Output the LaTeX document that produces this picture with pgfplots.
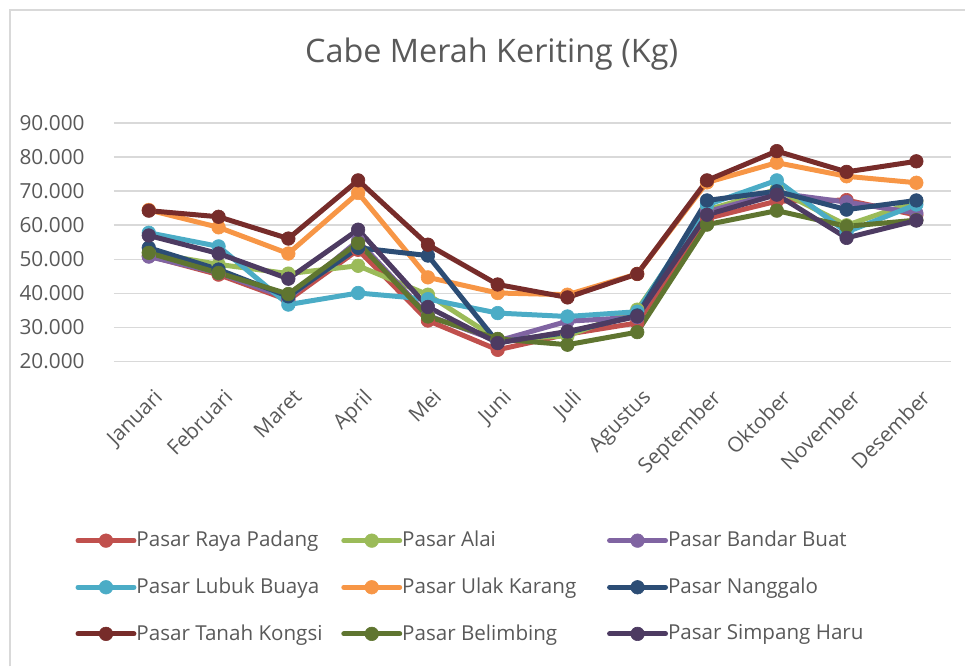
\documentclass[border=0pt]{standalone}
\usepackage{pgfplots}
\usepackage{pgfplotstable}
\pgfplotsset{compat=1.18}
\usepackage{fontspec}
\setmainfont{Open Sans}
\definecolor{txt}{HTML}{595959}
\definecolor{grd}{HTML}{D9D9D9}
\definecolor{c1}{HTML}{C0504D}
\definecolor{c2}{HTML}{9BBB59}
\definecolor{c3}{HTML}{8064A2}
\definecolor{c4}{HTML}{4BACC6}
\definecolor{c5}{HTML}{F79646}
\definecolor{c6}{HTML}{2C4D75}
\definecolor{c7}{HTML}{772C2A}
\definecolor{c8}{HTML}{5F7530}
\definecolor{c9}{HTML}{4D3B62}

\pgfplotstableread{
x  raya   alai   bandar lubuk  ulak   nang   tanah  belim  simpang
0  51000  52000  50800  57800  64500  53400  64300  51900  57000
1  45500  48500  46000  53800  59400  47000  62500  46000  51700
2  38000  45800  38500  36700  51700  39100  56100  39800  44300
3  52800  48100  55500  40100  69500  53400  73200  54800  58700
4  32000  39600  33500  38300  44700  51100  54300  33200  36000
5  23400  26500  26000  34200  40100  25600  42600  26600  25400
6  28000  27500  31800  33200  39600  28500  38800  24900  28800
7  31300  35200  33000  34600  45700  33500  45700  28600  33200
8  62000  64500  64000  66000  72600  67300  73200  60200  63100
9  67100  70500  69500  73200  78400  70000  81800  64300  69000
10 67400  60000  66800  58000  74400  64600  75700  59700  56300
11 63000  67000  63600  66100  72500  67300  78800  61500  61400
}\data

\begin{document}
\begin{tikzpicture}[x=1pt,y=1pt]
\path (0,0) rectangle (483,333.5);
\draw[color=grd, line width=0.8pt] (5,0) -- (5,328.5) -- (483,328.5);
\node[anchor=base, color=txt, font=\fontsize{16.2}{19}\selectfont] at (246,302) {Cabe Merah Keriting (Kg)};
\begin{axis}[
  at={(57pt,152.65pt)}, anchor=south west,
  scale only axis, width=419pt, height=119.2pt,
  xmin=-0.5, xmax=11.5, ymin=20000, ymax=90000,
  ytick={20000,30000,40000,50000,60000,70000,80000,90000},
  xtick={0,1,2,3,4,5,6,7,8,9,10,11},
  xticklabels={Januari,Februari,Maret,April,Mei,Juni,Juli,Agustus,September,Oktober,November,Desember},
  ymajorgrids, grid style={color=grd, line width=0.8pt},
  axis line style={draw=none},
  major tick length=0pt,
  scaled y ticks=false,
  /pgf/number format/assume math mode=true,
  /pgf/number format/fixed,
  /pgf/number format/precision=0,
  /pgf/number format/1000 sep={.},
  ticklabel style={font=\fontsize{10.4}{12}\selectfont, color=txt},
  yticklabel style={inner sep=0pt, anchor=east, xshift=-14.5pt},
  xticklabel style={yshift=-13pt, xshift=2pt, rotate=45, anchor=north east, inner sep=0pt},
  clip=false,
  legend columns=3,
  legend style={at={(axis description cs:-0.0535,-0.695)}, anchor=north west,
    draw=none, fill=none, font=\fontsize{10.3}{12}\selectfont, text=txt,
    column sep=0pt, row sep=14pt, nodes={inner sep=0pt}},
  legend cell align=left,
  legend image code/.code={\draw[mark repeat=2,mark phase=2,#1] plot coordinates {(0pt,0pt) (14pt,0pt) (28pt,0pt)};},
  every axis plot/.append style={line width=2.5pt, line cap=round, line join=round, mark=*, mark size=3.4pt},
]
\addplot[color=c1, mark options={solid, line width=0.3pt, fill=c1}] table[x=x,y=raya] {\data};
\addlegendentry{\makebox[102.5pt][l]{Pasar Raya Padang}}
\addplot[color=c2, mark options={solid, line width=0.3pt, fill=c2}] table[x=x,y=alai] {\data};
\addlegendentry{\makebox[102.5pt][l]{Pasar Alai}}
\addplot[color=c3, mark options={solid, line width=0.3pt, fill=c3}] table[x=x,y=bandar] {\data};
\addlegendentry{\makebox[102.5pt][l]{Pasar Bandar Buat}}
\addplot[color=c4, mark options={solid, line width=0.3pt, fill=c4}] table[x=x,y=lubuk] {\data};
\addlegendentry{\makebox[102.5pt][l]{Pasar Lubuk Buaya}}
\addplot[color=c5, mark options={solid, line width=0.3pt, fill=c5}] table[x=x,y=ulak] {\data};
\addlegendentry{\makebox[102.5pt][l]{Pasar Ulak Karang}}
\addplot[color=c6, mark options={solid, line width=0.3pt, fill=c6}] table[x=x,y=nang] {\data};
\addlegendentry{\makebox[102.5pt][l]{Pasar Nanggalo}}
\addplot[color=c7, mark options={solid, line width=0.3pt, fill=c7}] table[x=x,y=tanah] {\data};
\addlegendentry{\makebox[102.5pt][l]{Pasar Tanah Kongsi}}
\addplot[color=c8, mark options={solid, line width=0.3pt, fill=c8}] table[x=x,y=belim] {\data};
\addlegendentry{\makebox[102.5pt][l]{Pasar Belimbing}}
\addplot[color=c9, mark options={solid, line width=0.3pt, fill=c9}] table[x=x,y=simpang] {\data};
\addlegendentry{\makebox[102.5pt][l]{Pasar Simpang Haru}}
\end{axis}
\end{tikzpicture}
\end{document}
